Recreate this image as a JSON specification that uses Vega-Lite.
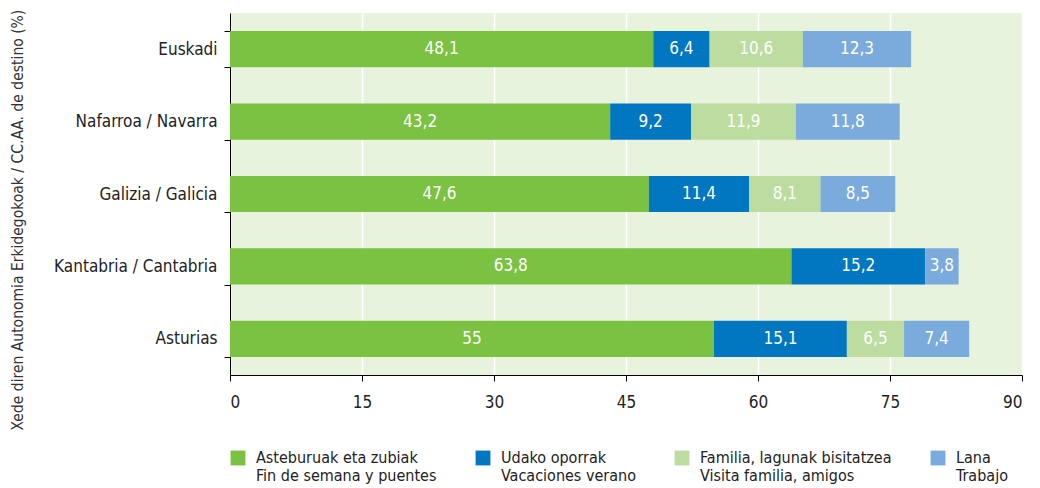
{
  "$schema": "https://vega.github.io/schema/vega-lite/v6.json",
  "autosize": {"type": "fit", "contains": "padding"},
  "width": 1040,
  "height": 488,
  "padding": {"left": 10, "right": 17, "top": 4, "bottom": 4},
  "config": {
    "locale": {"number": {"decimal": ",", "thousands": ".", "grouping": [3], "currency": ["", " €"]}},
    "font": "DejaVu Sans Condensed, Roboto Condensed, Roboto",
    "view": {"stroke": null, "fill": "#e8f3dd"},
    "axis": {"labelFont": "DejaVu Sans Condensed, Roboto Condensed, Roboto", "titleFont": "DejaVu Sans Condensed, Roboto Condensed, Roboto", "labelColor": "#222222", "titleColor": "#333333", "domainColor": "#000000", "tickColor": "#000000", "labelFontSize": 17, "titleFontSize": 15.5, "titleFontWeight": "normal"},
    "legend": {"labelFont": "DejaVu Sans Condensed, Roboto Condensed, Roboto", "labelFontSize": 16, "labelColor": "#222222"}
  },
  "data": {"values": [
    {"region": "Euskadi", "cat": "Asteburuak eta zubiak|Fin de semana y puentes", "ord": 1, "value": 48.1},
    {"region": "Euskadi", "cat": "Udako oporrak|Vacaciones verano", "ord": 2, "value": 6.4},
    {"region": "Euskadi", "cat": "Familia, lagunak bisitatzea|Visita familia, amigos", "ord": 3, "value": 10.6},
    {"region": "Euskadi", "cat": "Lana|Trabajo", "ord": 4, "value": 12.3},
    {"region": "Nafarroa / Navarra", "cat": "Asteburuak eta zubiak|Fin de semana y puentes", "ord": 1, "value": 43.2},
    {"region": "Nafarroa / Navarra", "cat": "Udako oporrak|Vacaciones verano", "ord": 2, "value": 9.2},
    {"region": "Nafarroa / Navarra", "cat": "Familia, lagunak bisitatzea|Visita familia, amigos", "ord": 3, "value": 11.9},
    {"region": "Nafarroa / Navarra", "cat": "Lana|Trabajo", "ord": 4, "value": 11.8},
    {"region": "Galizia / Galicia", "cat": "Asteburuak eta zubiak|Fin de semana y puentes", "ord": 1, "value": 47.6},
    {"region": "Galizia / Galicia", "cat": "Udako oporrak|Vacaciones verano", "ord": 2, "value": 11.4},
    {"region": "Galizia / Galicia", "cat": "Familia, lagunak bisitatzea|Visita familia, amigos", "ord": 3, "value": 8.1},
    {"region": "Galizia / Galicia", "cat": "Lana|Trabajo", "ord": 4, "value": 8.5},
    {"region": "Kantabria / Cantabria", "cat": "Asteburuak eta zubiak|Fin de semana y puentes", "ord": 1, "value": 63.8},
    {"region": "Kantabria / Cantabria", "cat": "Udako oporrak|Vacaciones verano", "ord": 2, "value": 15.2},
    {"region": "Kantabria / Cantabria", "cat": "Lana|Trabajo", "ord": 4, "value": 3.8},
    {"region": "Asturias", "cat": "Asteburuak eta zubiak|Fin de semana y puentes", "ord": 1, "value": 55},
    {"region": "Asturias", "cat": "Udako oporrak|Vacaciones verano", "ord": 2, "value": 15.1},
    {"region": "Asturias", "cat": "Familia, lagunak bisitatzea|Visita familia, amigos", "ord": 3, "value": 6.5},
    {"region": "Asturias", "cat": "Lana|Trabajo", "ord": 4, "value": 7.4}
  ]},
  "transform": [
    {"stack": "value", "groupby": ["region"], "sort": [{"field": "ord"}], "as": ["x0", "x1"]},
    {"calculate": "(datum.x0 + datum.x1) / 2", "as": "xm"}
  ],
  "encoding": {
    "y": {"field": "region", "type": "nominal",
      "sort": ["Euskadi", "Nafarroa / Navarra", "Galizia / Galicia", "Kantabria / Cantabria", "Asturias"],
      "scale": {"paddingInner": 0.5, "paddingOuter": 0.25},
      "axis": {"title": "Xede diren Autonomia Erkidegokoak / CC.AA. de destino (%)", "tickBand": "extent", "tickSize": 6, "labelPadding": 7, "titlePadding": 28, "titleAngle": -90, "titleAlign": "left", "titleY": 417}}
  },
  "layer": [
    {
      "mark": {"type": "bar"},
      "encoding": {
        "x": {"field": "x0", "type": "quantitative", "scale": {"domain": [0, 90]},
          "axis": {"title": null, "values": [0, 15, 30, 45, 60, 75, 90], "gridColor": "#ffffff", "gridWidth": 1.5, "tickSize": 6, "labelPadding": 13}},
        "x2": {"field": "x1"},
        "color": {"field": "cat", "type": "nominal",
          "scale": {"domain": ["Asteburuak eta zubiak|Fin de semana y puentes", "Udako oporrak|Vacaciones verano", "Familia, lagunak bisitatzea|Visita familia, amigos", "Lana|Trabajo"],
            "range": ["#7bc142", "#0077c0", "#bddc9f", "#7aabdc"]},
          "legend": {"title": null, "orient": "bottom", "direction": "horizontal", "symbolType": "square", "symbolSize": 220, "symbolStrokeWidth": 0, "labelExpr": "split(datum.label, '|')", "labelLimit": 300, "columnPadding": 38, "offset": 40, "labelOffset": 10, "padding": 0}}
      }
    },
    {
      "mark": {"type": "text", "color": "#ffffff", "fontSize": 17, "baseline": "middle", "align": "center"},
      "encoding": {
        "x": {"field": "xm", "type": "quantitative"},
        "text": {"field": "value", "type": "quantitative", "format": ".3~r"}
      }
    }
  ]
}
